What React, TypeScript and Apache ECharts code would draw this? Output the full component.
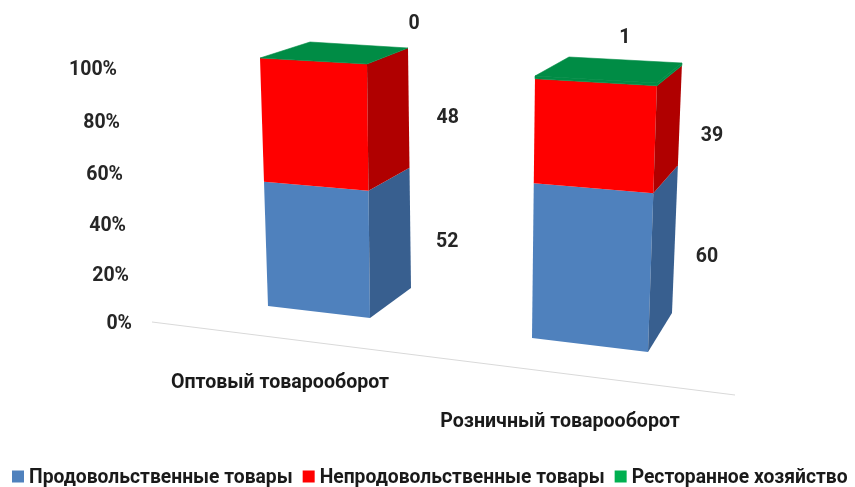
import React, { useEffect, useRef } from "react";
import * as echarts from "echarts";

const categories = ["Оптовый товарооборот", "Розничный товарооборот"];
const seriesNames = ["Продовольственные товары", "Непродовольственные товары", "Ресторанное хозяйство"];
const foodValues = [52, 60];
const nonFoodValues = [48, 39];
const restaurantValues = [0, 1];
const yTicks = [0, 20, 40, 60, 80, 100];

const FONT = "Roboto";
const frontColors = ["#4F81BD", "#FF0000", "#008C45"];
const sideColors = ["#385F8F", "#B00000", "#008C45"];
const topColor = "#008C45";
const legendColors = ["#4F81BD", "#FF0000", "#00B050"];

const allValues = [foodValues, nonFoodValues, restaurantValues];

// Perspective of each bar: corner offsets from the axis position of its category at 0 and at 100.
const perspective = [
  {
    bottom: { fl: [-12, -16], fr: [90, -4], br: [131, -34] },
    top: { fl: [-20, -9], fr: [87, -3], br: [128, -19], bl: [30, -25] },
    foreshorten: 1.08,
  },
  {
    bottom: { fl: [-28, 16], fr: [88, 30], br: [112, -9] },
    top: { fl: [-25, 9], fr: [97, 16], br: [122, -4], bl: [9, -10] },
    foreshorten: 1.04,
  },
];
// Data label nudges from the middle of the side face: per series, per category.
const labelNudge = [
  [[37, -2], [32, -1.5]],
  [[39, -2], [32, 7]],
  [[6, -34], [-57, -37.5]],
];
// Tick label nudges [right, down] so they follow the slanted axis.
const yNudge: Record<number, number[]> = {
  100: [15, 1],
  80: [12, 3],
  60: [9, 4],
  40: [6, 4],
  20: [3, 3],
  0: [0, 0],
};

function makeRender(seriesIndex: number) {
  return (params: any, api: any) => {
    const i = api.value(0);
    const low = api.value(1);
    const high = api.value(2);
    const shown = api.value(3);
    const p = perspective[i];
    const base = api.coord([i, 0]);
    const full = api.coord([i, 100]);
    const at = (corner: "fl" | "fr" | "br", v: number) => {
      const raw = (base[1] - api.coord([i, v])[1]) / (base[1] - full[1]);
      const t = raw / (raw + p.foreshorten * (1 - raw));
      const a = [base[0] + p.bottom[corner][0], base[1] + p.bottom[corner][1]];
      const b = [full[0] + p.top[corner][0], full[1] + p.top[corner][1]];
      return [a[0] + (b[0] - a[0]) * t, a[1] + (b[1] - a[1]) * t];
    };
    const seam = seriesIndex === 2 ? { stroke: topColor, lineWidth: 0.6 } : {};
    const children: any[] = [];
    if (high > low) {
      children.push({
        type: "polygon",
        shape: { points: [at("fl", low), at("fr", low), at("fr", high), at("fl", high)] },
        style: { fill: frontColors[seriesIndex], ...seam },
      });
      children.push({
        type: "polygon",
        shape: { points: [at("fr", low), at("br", low), at("br", high), at("fr", high)] },
        style: { fill: sideColors[seriesIndex], ...seam },
      });
    }
    if (seriesIndex === 2) {
      const backLeft = [full[0] + p.top.bl[0], full[1] + p.top.bl[1]];
      children.push({
        type: "polygon",
        shape: { points: [at("fl", high), at("fr", high), at("br", high), backLeft] },
        style: { fill: topColor, ...seam },
      });
    }
    const mid = (low + high) / 2;
    const a = at("fr", mid);
    const b = at("br", mid);
    const n = labelNudge[seriesIndex][i];
    children.push({
      type: "text",
      style: {
        text: String(shown),
        x: b[0] + n[0],
        y: (a[1] + b[1]) / 2 + n[1],
        align: "center",
        verticalAlign: "middle",
        fill: "#262626",
        font: `bold 19.5px "${FONT}"`,
      },
    });
    return { type: "group", children };
  };
}

function seriesData(s: number) {
  return categories.map((_, i) => {
    let low = 0;
    for (let k = 0; k < s; k++) low += allValues[k][i];
    return [i, low, low + allValues[s][i], allValues[s][i]];
  });
}

export default function App() {
  const ref = useRef<HTMLDivElement>(null);
  useEffect(() => {
    const chart = echarts.init(ref.current!, undefined, { renderer: "svg" });
    const yRich: any = {};
    yTicks.forEach((v) => {
      yRich["t" + v] = {
        fontFamily: FONT,
        fontWeight: "bold",
        fontSize: 19.5,
        color: "#262626",
        padding: [yNudge[v][1] * 2, yNudge[v][0], 0, 0],
      };
    });
    chart.setOption({
      animation: false,
      backgroundColor: "#ffffff",
      grid: { left: 140, width: 560, top: 67, height: 255 },
      xAxis: {
        type: "category",
        data: categories,
        axisLine: { show: false },
        axisTick: { show: false },
        splitLine: { show: false },
        axisLabel: {
          interval: 0,
          margin: 49,
          formatter: (value: string) => `{c${categories.indexOf(value)}|${value}}`,
          rich: {
            c0: { fontFamily: FONT, fontWeight: "bold", fontSize: 19.6, color: "#1a1a1a" },
            c1: { fontFamily: FONT, fontWeight: "bold", fontSize: 19.6, color: "#1a1a1a", padding: [39, 0, 0, 0] },
          },
        },
      },
      yAxis: {
        type: "value",
        min: 0,
        max: 100,
        interval: 20,
        axisLine: { show: false },
        axisTick: { show: false },
        splitLine: { show: false },
        axisLabel: {
          margin: 8,
          formatter: (v: number) => `{t${v}|${v}%}`,
          rich: yRich,
        },
      },
      legend: {
        left: 12,
        top: 467,
        width: 1000,
        icon: "rect",
        itemWidth: 12,
        itemHeight: 12,
        itemGap: 10,
        itemStyle: { borderWidth: 0 },
        padding: 0,
        data: seriesNames,
        textStyle: { fontFamily: FONT, fontWeight: "bold", fontSize: 19.3, color: "#1a1a1a" },
      },
      series: [
        {
          type: "custom",
          name: "axis",
          silent: true,
          data: [[0]],
          renderItem: (_: any, api: any) => {
            const a = api.coord([0, 0]);
            const b = api.coord([1, 0]);
            return {
              type: "line",
              shape: { x1: a[0] - 128, y1: a[1], x2: b[0] + 175, y2: b[1] + 73 },
              style: { stroke: "#D9D9D9", lineWidth: 1 },
            };
          },
        },
        ...seriesNames.map((name, s) => ({
          type: "custom",
          name,
          itemStyle: { color: legendColors[s] },
          data: seriesData(s),
          encode: { x: 0, y: 2 },
          renderItem: makeRender(s),
        })),
      ],
    });
    return () => chart.dispose();
  }, []);
  return (
    <div
      ref={ref}
      style={{ position: "fixed", left: 0, top: 0, width: 855, height: 487, filter: "blur(0.5px)" }}
    />
  );
}
